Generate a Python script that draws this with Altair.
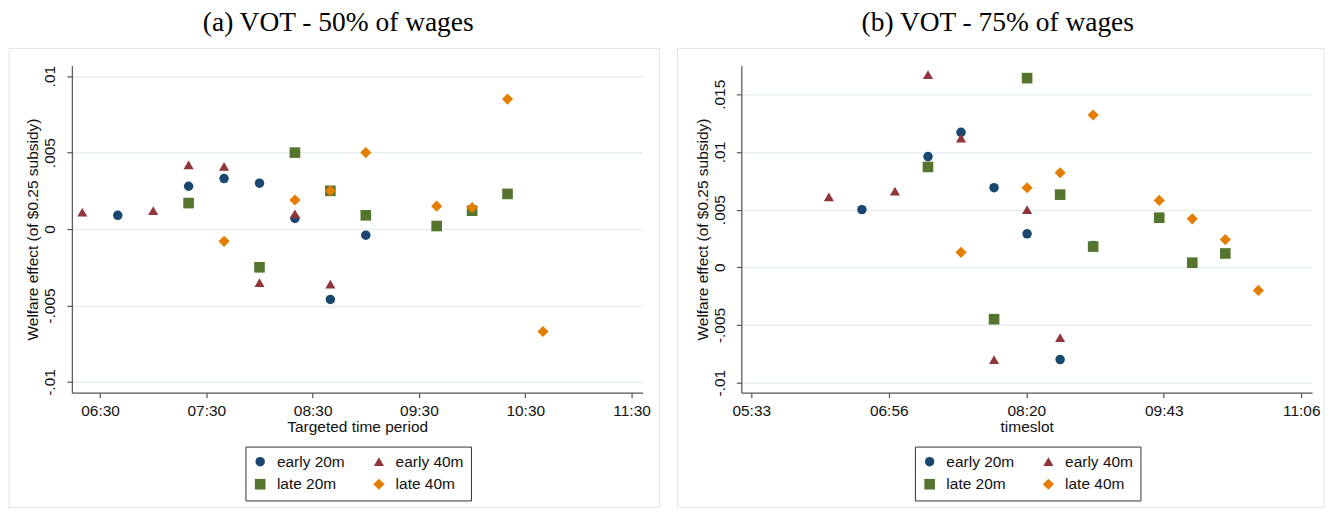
import altair as alt
import pandas as pd

series = ["early 20m", "early 40m", "late 20m", "late 40m"]
colors = ["#1a476f", "#90353b", "#55752f", "#e37e00"]
shapes = ["circle", "triangle-up", "square", "diamond"]
sizes = [90, 125, 95, 135]

# ---- Panel (a): VOT 50% of wages ----
a_e20_t = ["06:40", "07:20", "07:40", "08:00", "08:20", "08:40", "09:00"]
a_e20_v = [0.0009, 0.0028, 0.0033, 0.0030, 0.0007, -0.0046, -0.0004]
a_e40_t = ["06:20", "07:00", "07:20", "07:40", "08:00", "08:20", "08:40"]
a_e40_v = [0.0011, 0.0012, 0.0042, 0.0041, -0.0035, 0.0010, -0.0036]
a_l20_t = ["07:20", "08:00", "08:20", "08:40", "09:00", "09:40", "10:00", "10:20"]
a_l20_v = [0.0017, -0.0025, 0.0050, 0.0025, 0.0009, 0.0002, 0.0012, 0.0023]
a_l40_t = ["07:40", "08:20", "08:40", "09:00", "09:40", "10:00", "10:20", "10:40"]
a_l40_v = [-0.0008, 0.0019, 0.0025, 0.0050, 0.0015, 0.0014, 0.0085, -0.0067]

# ---- Panel (b): VOT 75% of wages ----
b_e20_t = ["06:40", "07:20", "07:40", "08:00", "08:20", "08:40", "09:00"]
b_e20_v = [0.0050, 0.0096, 0.0117, 0.0069, 0.0029, -0.0080, 0.0019]
b_e40_t = ["06:20", "07:00", "07:20", "07:40", "08:00", "08:20", "08:40"]
b_e40_v = [0.0061, 0.0066, 0.0167, 0.0112, -0.0080, 0.0050, -0.0061]
b_l20_t = ["07:20", "08:00", "08:20", "08:40", "09:00", "09:40", "10:00", "10:20"]
b_l20_v = [0.0087, -0.0045, 0.0164, 0.0063, 0.0018, 0.0043, 0.0004, 0.0012]
b_l40_t = ["07:40", "08:20", "08:40", "09:00", "09:40", "10:00", "10:20", "10:40"]
b_l40_v = [0.0013, 0.0069, 0.0082, 0.0132, 0.0058, 0.0042, 0.0024, -0.0020]

# axis ticks (minutes since midnight) and labels
a_xticks = [390, 450, 510, 570, 630, 690]
a_xlabels = ["06:30", "07:30", "08:30", "09:30", "10:30", "11:30"]
a_yticks = [-0.01, -0.005, 0, 0.005, 0.01]
a_ylabels = ["-.01", "-.005", "0", ".005", ".01"]

b_xticks = [333, 416.25, 499.5, 582.75, 666]
b_xlabels = ["05:33", "06:56", "08:20", "09:43", "11:06"]
b_yticks = [-0.01, -0.005, 0, 0.005, 0.01, 0.015]
b_ylabels = ["-.01", "-.005", "0", ".005", ".01", ".015"]


def to_min(s):
    h, m = s.split(":")
    return int(h) * 60 + int(m)


def build(groups):
    rows = []
    for k, (name, ts, vs) in enumerate(groups):
        for t, v in zip(ts, vs):
            rows.append({"t": to_min(t), "v": v, "series": name, "k": k})
    return pd.DataFrame(rows)


df_a = build([("early 20m", a_e20_t, a_e20_v), ("early 40m", a_e40_t, a_e40_v),
              ("late 20m", a_l20_t, a_l20_v), ("late 40m", a_l40_t, a_l40_v)])
df_b = build([("early 20m", b_e20_t, b_e20_v), ("early 40m", b_e40_t, b_e40_v),
              ("late 20m", b_l20_t, b_l20_v), ("late 40m", b_l40_t, b_l40_v)])


def label_expr(vals, labs):
    return "{" + ",".join("'%s':'%s'" % ("%g" % v, l) for v, l in zip(vals, labs)) + "}[datum.value]"


W, H = 572, 328
FONT = "Liberation Sans"


def panel(df, title, tdx, xdom, xticks, xlabels, xtitle, ydom, yticks, ylabels, fx, fx2):
    legend = alt.Legend(
        orient="none", legendX=174, legendY=382, columns=2, direction="horizontal", title=None,
        strokeColor="#333333", fillColor="white", padding=7, cornerRadius=0,
        labelFont=FONT, labelFontSize=15.5, labelColor="#111111",
        symbolSize=100, symbolStrokeWidth=0, symbolOpacity=1,
        labelOffset=9, columnPadding=26, rowPadding=6,
    )
    pts = alt.Chart(df).mark_point(filled=True, opacity=1, strokeWidth=0).encode(
        x=alt.X("t:Q", scale=alt.Scale(domain=xdom, nice=False, zero=False),
                axis=alt.Axis(values=xticks, labelExpr=label_expr(xticks, xlabels),
                              title=xtitle, grid=False, labelFlush=False,
                              labelPadding=6, titlePadding=0)),
        y=alt.Y("v:Q", scale=alt.Scale(domain=ydom, nice=False, zero=False),
                axis=alt.Axis(values=yticks, labelExpr=label_expr(yticks, ylabels),
                              title="Welfare effect (of $0.25 subsidy)", grid=True,
                              labelAngle=270, labelAlign="center", labelBaseline="bottom",
                              labelFlush=False, labelPadding=9, titlePadding=2)),
        color=alt.Color("series:N", scale=alt.Scale(domain=series, range=colors), legend=legend),
        shape=alt.Shape("series:N", scale=alt.Scale(domain=series, range=shapes), legend=legend),
        size=alt.Size("series:N", scale=alt.Scale(domain=series, range=sizes), legend=None),
        order=alt.Order("k:Q"),
    )
    frame = alt.Chart(pd.DataFrame({"f": [0]})).mark_rect(
        filled=False, stroke="#e4e4e4", strokeWidth=1
    ).encode(x=alt.value(fx), x2=alt.value(fx2), y=alt.value(-17), y2=alt.value(443))
    return alt.layer(frame, pts).properties(
        width=W, height=H,
        title=alt.TitleParams(title, font="Liberation Serif", fontSize=27.5, fontWeight="normal",
                              color="#000000", anchor="middle", frame="bounds", dx=tdx, offset=12),
    )


left = panel(df_a, "(a) VOT - 50% of wages", 4, [374.1, 696.2], a_xticks, a_xlabels,
             "Targeted time period", [-0.0107, 0.0107], a_yticks, a_ylabels, -63, 589)
right = panel(df_b, "(b) VOT - 75% of wages", -3, [327, 672.5], b_xticks, b_xlabels,
              "timeslot", [-0.01087, 0.0175], b_yticks, b_ylabels, -64, 584)

chart = alt.hconcat(left, right, spacing=16).resolve_scale(
    x="independent", y="independent", color="independent", shape="independent", size="independent"
).resolve_legend(
    color="independent", shape="independent", size="independent"
).properties(padding=0).configure_view(stroke=None).configure_axis(
    labelFont=FONT, titleFont=FONT, labelFontSize=15.5, titleFontSize=15.5,
    titleFontWeight="normal", labelColor="#111111", titleColor="#111111",
    domainColor="#555555", tickColor="#555555", tickSize=5, domainWidth=1.2, tickWidth=1.2,
    gridColor="#e6eef1", gridWidth=1.5,
)

chart.save("out.html", embed_options={"renderer": "svg", "actions": False})
